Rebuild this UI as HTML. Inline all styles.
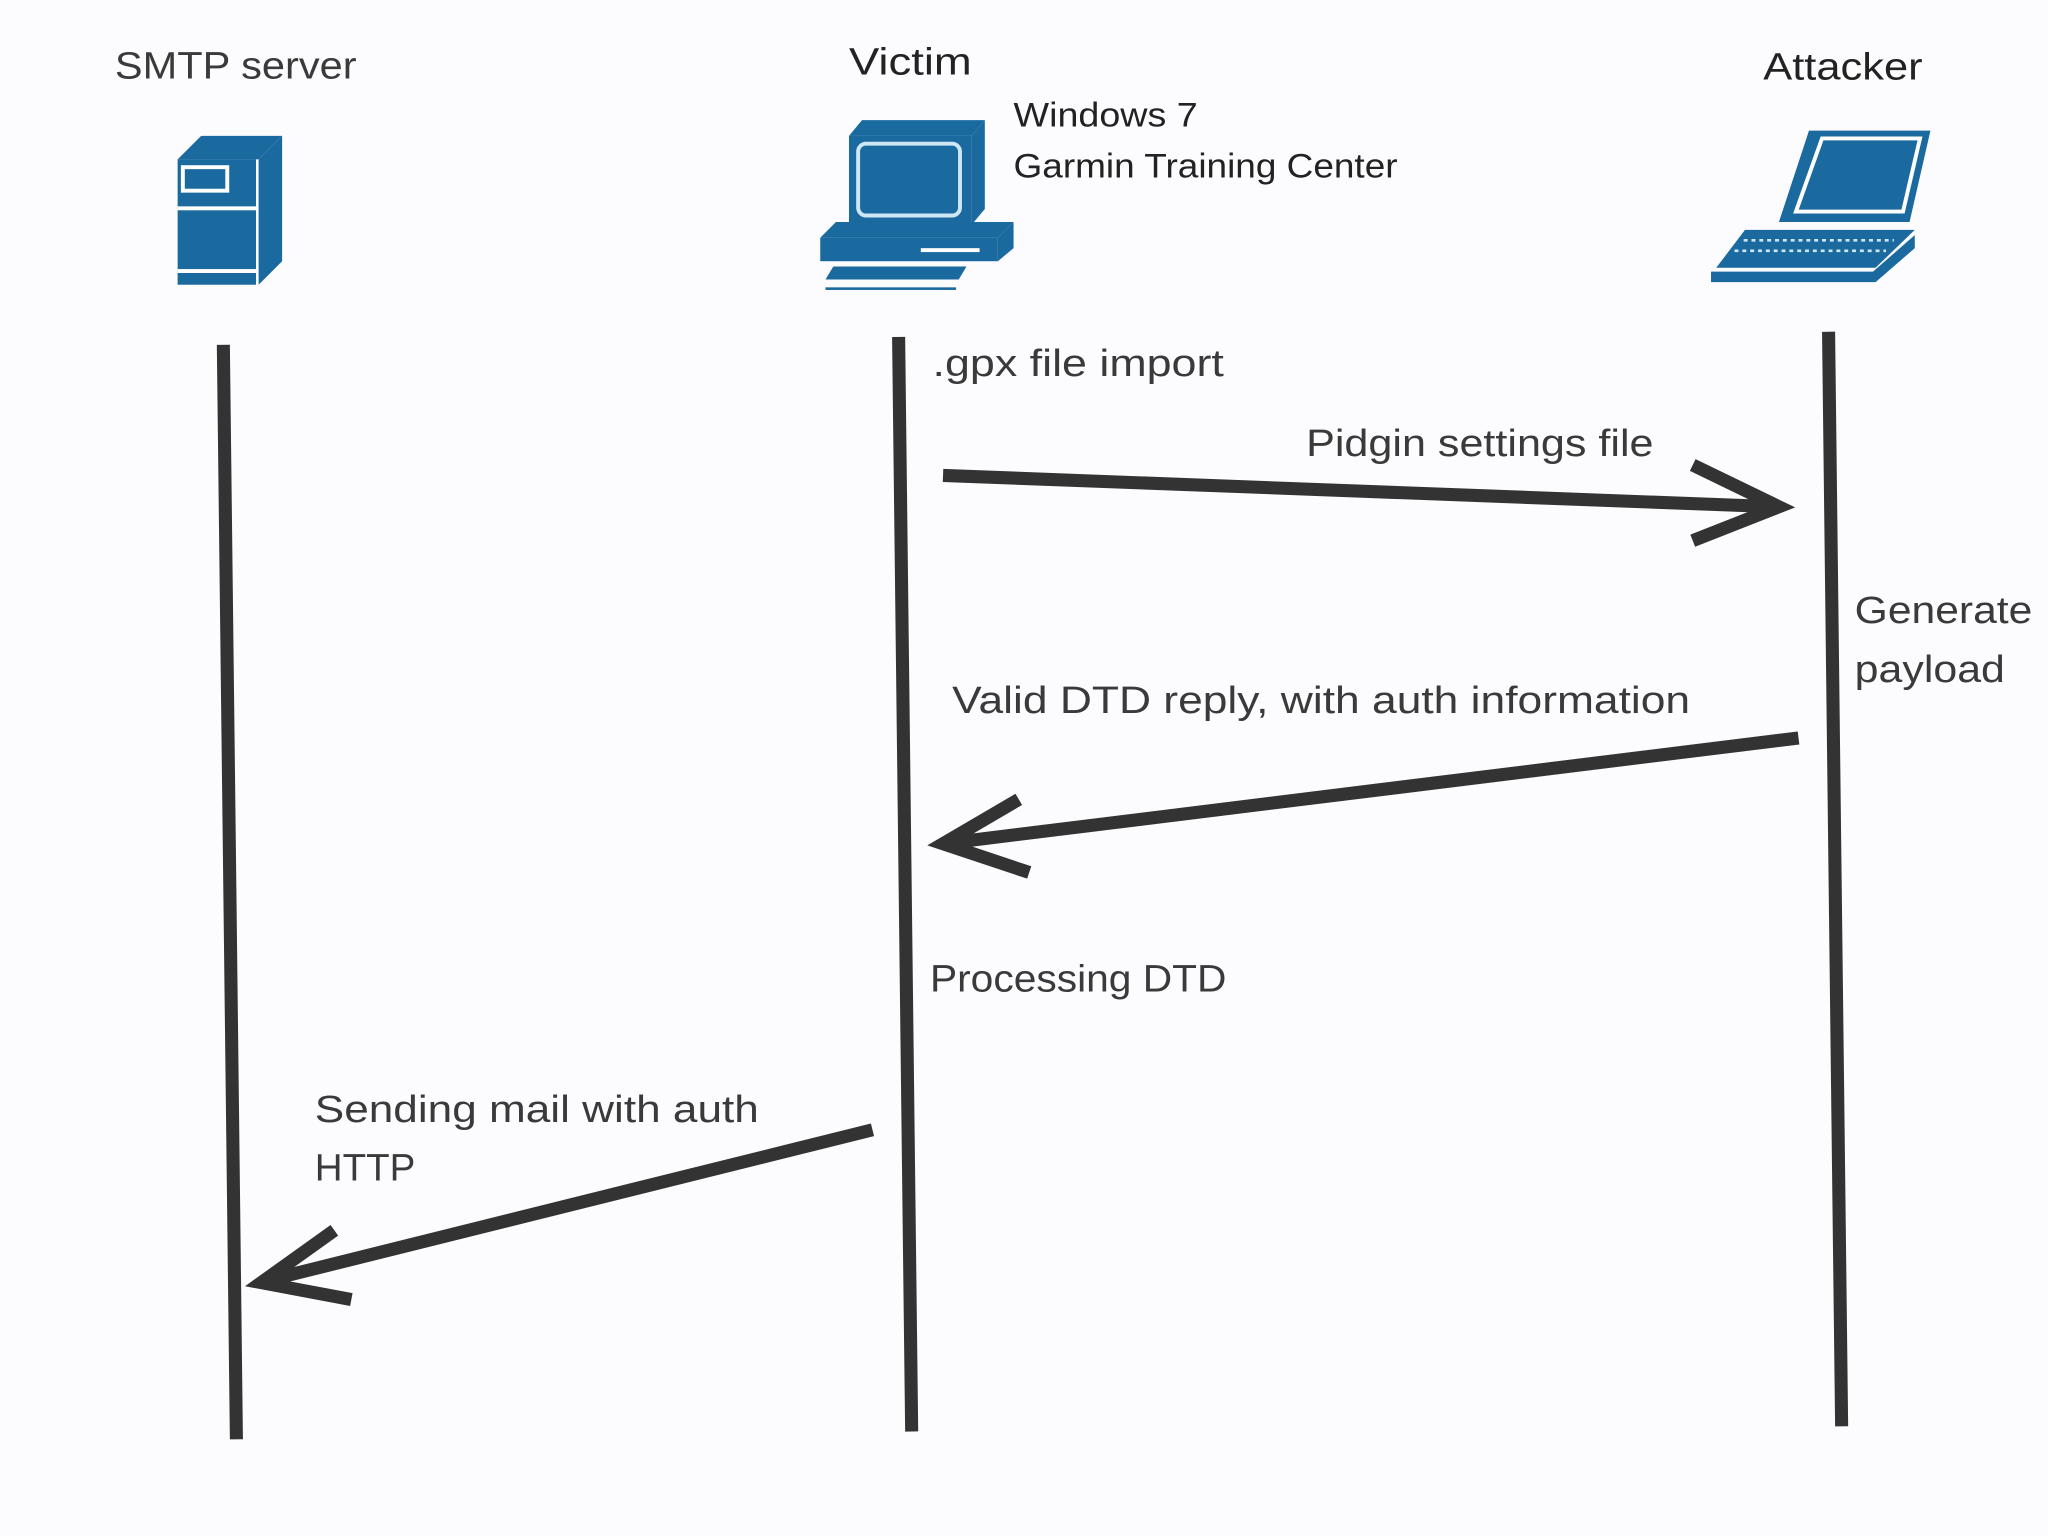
<!DOCTYPE html>
<html><head><meta charset="utf-8"><style>
html,body{margin:0;padding:0;background:#fcfbfd;}
svg{display:block}
text{font-family:"Liberation Sans",sans-serif;fill:#3a3a3a;}
</style></head><body>
<svg width="2048" height="1536" viewBox="0 0 1568 1176" xmlns="http://www.w3.org/2000/svg">
<rect width="1568" height="1176" fill="#fcfbfd"/>
<text x="88" y="60" font-size="29" fill="#444" textLength="185" lengthAdjust="spacingAndGlyphs">SMTP server</text>
<text x="650" y="57" font-size="29" style="fill:#222" textLength="94" lengthAdjust="spacingAndGlyphs">Victim</text>
<text x="1350" y="61" font-size="29" style="fill:#222" textLength="122" lengthAdjust="spacingAndGlyphs">Attacker</text>
<text x="776" y="97" font-size="26" style="fill:#222" textLength="141" lengthAdjust="spacingAndGlyphs">Windows 7</text>
<text x="776" y="136" font-size="26" style="fill:#222" textLength="294" lengthAdjust="spacingAndGlyphs">Garmin Training Center</text>
<g fill="#1a6aa0">
<polygon points="136,122 154,104 216,104 198,122"/>
<polygon points="198,122 216,104 216,200 198,218"/>
<rect x="136" y="122" width="60" height="96"/>
<rect x="140" y="128" width="34" height="18" fill="none" stroke="#fff" stroke-width="3"/>
<rect x="136" y="158" width="60" height="3" fill="#fff"/>
<rect x="136" y="206" width="60" height="3" fill="#fff"/>
</g>
<g fill="#1a6aa0">
<polygon points="650,104 660,92 754,92 744,104"/>
<polygon points="744,104 754,92 754,160 744,172"/>
<rect x="650" y="104" width="94" height="68"/>
<rect x="657" y="110" width="78" height="55" rx="6" fill="none" stroke="#cfe6f5" stroke-width="3"/>
<polygon points="628,182 640,170 776,170 764,182"/>
<polygon points="764,182 776,170 776,190 764,200"/>
<rect x="628" y="182" width="136" height="18"/>
<rect x="705" y="190" width="45" height="3" fill="#fff"/>
<polygon points="632,214 638,204 740,204 734,214"/>
<rect x="632" y="220" width="100" height="2"/>
</g>
<g fill="#1a6aa0">
<polygon points="1385,100 1478,100 1462,170 1362,170"/>
<polygon points="1395,106 1470,106 1457,162 1375,162" fill="none" stroke="#fff" stroke-width="3"/>
<polygon points="1336,176 1466,176 1436,205 1314,205"/>
<g stroke="#cfe6f5" stroke-width="2">
<line x1="1335" y1="184" x2="1450" y2="184" stroke-dasharray="3 3"/>
<line x1="1328" y1="192" x2="1444" y2="192" stroke-dasharray="3 3"/>
</g>
<polygon points="1310,208 1434,208 1466,180 1466,190 1436,216 1310,216"/>
</g>
<g stroke="#333" stroke-width="10" fill="none">
<line x1="171" y1="264" x2="181" y2="1102"/>
<line x1="688" y1="258" x2="698" y2="1096"/>
<line x1="1400" y1="254" x2="1410" y2="1092"/>
</g>
<g stroke="#333" stroke-width="10" fill="none">
<line x1="722" y1="364" x2="1360" y2="388"/>
<polyline points="1296,356 1362,388 1296,414"/>
<line x1="1377" y1="565" x2="722" y2="646"/>
<polyline points="780,612 722,646 788,668"/>
<line x1="668" y1="865" x2="202" y2="981"/>
<polyline points="256,942 200,982 269,995"/>
</g>
<g font-size="29">
<text x="714" y="288" textLength="223" lengthAdjust="spacingAndGlyphs">.gpx file import</text>
<text x="1000" y="349" textLength="266" lengthAdjust="spacingAndGlyphs">Pidgin settings file</text>
<text x="1420" y="477" textLength="136" lengthAdjust="spacingAndGlyphs">Generate</text>
<text x="1420" y="522" textLength="115" lengthAdjust="spacingAndGlyphs">payload</text>
<text x="729" y="546" textLength="565" lengthAdjust="spacingAndGlyphs">Valid DTD reply, with auth information</text>
<text x="712" y="759" textLength="227" lengthAdjust="spacingAndGlyphs">Processing DTD</text>
<text x="241" y="859" textLength="340" lengthAdjust="spacingAndGlyphs">Sending mail with auth</text>
<text x="241" y="904" textLength="77" lengthAdjust="spacingAndGlyphs">HTTP</text>
</g>
</svg>
</body></html>
